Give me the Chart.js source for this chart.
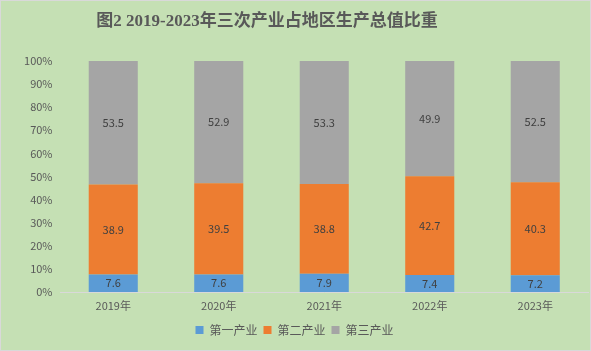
<!DOCTYPE html>
<html>
<head>
<meta charset="utf-8">
<script src="https://cdn.jsdelivr.net/npm/chart.js@4"></script>
<style>
  html, body { margin: 0; padding: 0; background: #ffffff; }
  .box {
    width: 591px; height: 351px; box-sizing: border-box;
    border: 1px solid #d9d9d9; background: #c5e0b4;
  }
  canvas { display: block; }
</style>
</head>
<body>
<div class="box"><canvas id="chart" width="589" height="349"></canvas></div>
<script>
const years = ['2019年', '2020年', '2021年', '2022年', '2023年'];
const primary = [7.6, 7.6, 7.9, 7.4, 7.2];
const secondary = [38.9, 39.5, 38.8, 42.7, 40.3];
const tertiary = [53.5, 52.9, 53.3, 49.9, 52.5];
const seriesNames = ['第一产业', '第二产业', '第三产业'];
const titleText = '图2 2019-2023年三次产业占地区生产总值比重';

const FONT = "'Noto Sans CJK SC', 'Noto Sans', sans-serif";

// values in the middle of each stacked segment
const segmentLabels = {
  id: 'segmentLabels',
  afterDatasetsDraw(chart) {
    const ctx = chart.ctx;
    ctx.save();
    ctx.font = '11px ' + FONT;
    ctx.fillStyle = '#404040';
    ctx.textAlign = 'center';
    ctx.textBaseline = 'middle';
    chart.data.datasets.forEach((ds, i) => {
      chart.getDatasetMeta(i).data.forEach((bar, j) => {
        ctx.fillText(ds.data[j].toFixed(1), bar.x, (bar.y + bar.base) / 2);
      });
    });
    ctx.restore();
  },
};

// the title sits a bit left of centre in the original
const offsetTitle = {
  id: 'offsetTitle',
  afterDraw(chart) {
    const ctx = chart.ctx;
    ctx.save();
    ctx.font = "bold 17px 'Liberation Serif', 'Noto Sans CJK SC', serif";
    ctx.fillStyle = '#595959';
    ctx.textAlign = 'center';
    ctx.textBaseline = 'middle';
    ctx.fillText(titleText, 266, 21);
    ctx.restore();
  },
};

new Chart(document.getElementById('chart'), {
  type: 'bar',
  data: {
    labels: years,
    datasets: [
      {label: seriesNames[0], data: primary, backgroundColor: '#5b9bd5'},
      {label: seriesNames[1], data: secondary, backgroundColor: '#ed7d31'},
      {label: seriesNames[2], data: tertiary, backgroundColor: '#a5a5a5'},
    ],
  },
  options: {
    responsive: false,
    animation: false,
    layout: {padding: {left: 0, right: 2, top: 60, bottom: 4}},
    datasets: {
      bar: {categoryPercentage: 1, barPercentage: 0.465, borderWidth: 0},
    },
    scales: {
      x: {
        stacked: true,
        grid: {display: false, drawTicks: false},
        border: {display: true, color: '#d9d9d9', width: 1},
        ticks: {color: '#595959', font: {family: FONT, size: 11}, padding: 7},
        afterFit: (scale) => { scale.height = 26; },
      },
      y: {
        stacked: true,
        min: 0,
        max: 100,
        grid: {display: false, drawTicks: false},
        border: {display: false},
        ticks: {
          stepSize: 10,
          color: '#595959',
          font: {family: FONT, size: 11},
          padding: 8,
          callback: (v) => v + '%',
        },
        afterFit: (scale) => { scale.width = 59.5; },
      },
    },
    plugins: {
      title: {display: false},
      legend: {
        position: 'bottom',
        labels: {
          boxWidth: 8,
          boxHeight: 8,
          padding: 6,
          color: '#595959',
          font: {family: FONT, size: 12},
        },
      },
      tooltip: {enabled: false},
    },
  },
  plugins: [segmentLabels, offsetTitle],
});
</script>
</body>
</html>
